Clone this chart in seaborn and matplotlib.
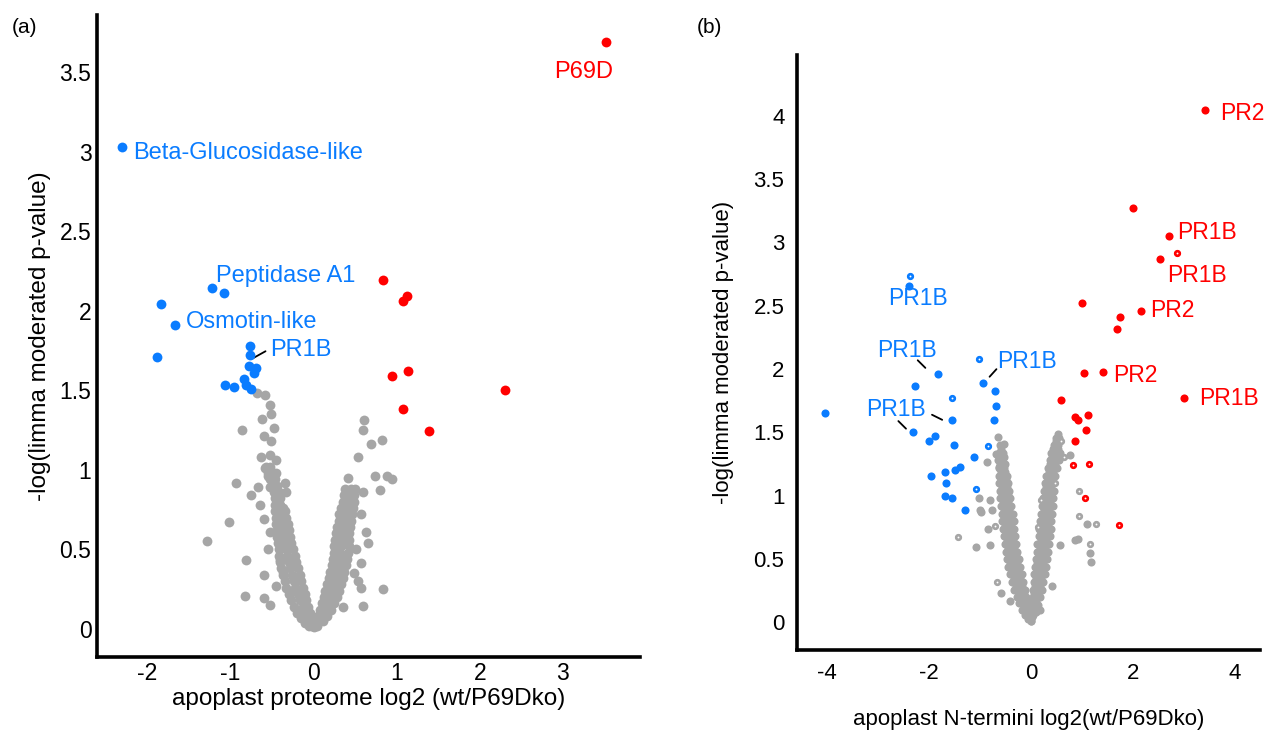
import matplotlib
matplotlib.use("Agg")
import matplotlib.pyplot as plt
import seaborn as sns
import pandas as pd
from matplotlib.ticker import FuncFormatter

# ---------------- panel (a): apoplast proteome ----------------
a_red_x = [3.52, 0.83, 1.12, 1.07, 0.94, 1.14, 1.07, 1.39, 2.30]
a_red_y = [3.69, 2.19, 2.09, 2.06, 1.59, 1.62, 1.38, 1.245, 1.50]

a_blue_x = [-2.31, -1.23, -1.08, -1.84, -1.67, -1.89, -0.77, -0.77, -0.78, -0.69,
            -0.72, -0.84, -0.81, -0.75, -1.07, -0.96]
a_blue_y = [3.03, 2.14, 2.11, 2.04, 1.91, 1.71, 1.78, 1.72, 1.65, 1.64,
            1.61, 1.57, 1.53, 1.51, 1.53, 1.52]

# gray (not significant) proteins
a_gray = [
    (-0.68, 1.48), (-0.59, 1.47), (-0.53, 1.41), (-0.51, 1.35), (-0.62, 1.32), (-0.86, 1.25),
    (-0.48, 1.26), (-0.60, 1.21), (-0.51, 1.18), (-0.64, 1.08), (-0.53, 1.09), (-0.45, 1.06),
    (-0.59, 1.01), (-0.55, 0.96), (-0.45, 0.98), (-0.93, 0.92), (-0.67, 0.89), (-0.53, 0.89),
    (-0.35, 0.92), (-0.33, 0.86), (-0.76, 0.84), (-0.65, 0.78), (-0.45, 0.82), (-0.37, 0.76),
    (-1.02, 0.67), (-0.60, 0.69), (-0.41, 0.73), (-1.29, 0.55), (-0.53, 0.61), (-0.33, 0.67),
    (-0.55, 0.50), (-0.81, 0.43), (-0.41, 0.43), (-0.60, 0.34), (-0.37, 0.36), (-0.83, 0.21),
    (-0.60, 0.195), (-0.53, 0.15), (-0.45, 0.27),
    (0.61, 1.31), (0.60, 1.25), (0.82, 1.19), (0.69, 1.16), (0.53, 1.08), (0.41, 0.95),
    (0.74, 0.96), (0.88, 0.96), (0.94, 0.94), (0.80, 0.87), (0.59, 0.86), (0.39, 0.84),
    (0.57, 0.72), (0.63, 0.61), (0.65, 0.54), (0.51, 0.50), (0.57, 0.415), (0.49, 0.35),
    (0.53, 0.30), (0.57, 0.26), (0.84, 0.25), (0.60, 0.145), (0.35, 0.14),
    # left arm of the V
    (-0.58, 1.02), (-0.52, 1.02), (-0.55, 0.98), (-0.49, 0.98), (-0.52, 0.94), (-0.46, 0.94),
    (-0.50, 0.90), (-0.44, 0.90), (-0.48, 0.86), (-0.42, 0.86), (-0.47, 0.82), (-0.41, 0.82),
    (-0.46, 0.78), (-0.40, 0.78), (-0.46, 0.74), (-0.39, 0.74), (-0.34, 0.74),
    (-0.45, 0.70), (-0.38, 0.70), (-0.33, 0.70), (-0.45, 0.66), (-0.38, 0.66), (-0.31, 0.66),
    (-0.44, 0.62), (-0.37, 0.62), (-0.30, 0.62), (-0.44, 0.58), (-0.36, 0.58), (-0.28, 0.58),
    (-0.43, 0.54), (-0.35, 0.54), (-0.27, 0.54), (-0.42, 0.50), (-0.33, 0.50), (-0.25, 0.50),
    (-0.42, 0.46), (-0.32, 0.46), (-0.23, 0.46), (-0.41, 0.42), (-0.30, 0.42), (-0.21, 0.42),
    (-0.39, 0.38), (-0.28, 0.38), (-0.19, 0.38), (-0.37, 0.34), (-0.26, 0.34), (-0.17, 0.34),
    (-0.35, 0.30), (-0.24, 0.30), (-0.15, 0.30), (-0.33, 0.26), (-0.22, 0.26), (-0.13, 0.26),
    (-0.30, 0.22), (-0.19, 0.22), (-0.11, 0.22), (-0.27, 0.18), (-0.16, 0.18), (-0.09, 0.18),
    (-0.24, 0.14), (-0.13, 0.14), (-0.07, 0.14), (-0.20, 0.10), (-0.10, 0.10), (-0.05, 0.10),
    (-0.15, 0.07), (-0.07, 0.07), (-0.03, 0.07), (-0.10, 0.04), (-0.04, 0.04),
    (-0.06, 0.02), (-0.02, 0.02), (0.0, 0.01),
    # right arm of the V
    (0.38, 0.88), (0.45, 0.88), (0.50, 0.88), (0.36, 0.84), (0.43, 0.84), (0.49, 0.84),
    (0.35, 0.80), (0.42, 0.80), (0.48, 0.80), (0.33, 0.76), (0.40, 0.76), (0.47, 0.76),
    (0.31, 0.72), (0.38, 0.72), (0.46, 0.72), (0.30, 0.68), (0.37, 0.68), (0.45, 0.68),
    (0.28, 0.64), (0.36, 0.64), (0.44, 0.64), (0.27, 0.60), (0.35, 0.60), (0.43, 0.60),
    (0.26, 0.56), (0.34, 0.56), (0.43, 0.56), (0.25, 0.52), (0.33, 0.52), (0.42, 0.52),
    (0.24, 0.48), (0.32, 0.48), (0.41, 0.48), (0.23, 0.44), (0.31, 0.44), (0.40, 0.44),
    (0.22, 0.40), (0.30, 0.40), (0.39, 0.40), (0.20, 0.36), (0.28, 0.36), (0.37, 0.36),
    (0.18, 0.32), (0.26, 0.32), (0.35, 0.32), (0.16, 0.28), (0.24, 0.28), (0.33, 0.28),
    (0.14, 0.24), (0.22, 0.24), (0.31, 0.24), (0.12, 0.20), (0.19, 0.20), (0.28, 0.20),
    (0.10, 0.16), (0.17, 0.16), (0.25, 0.16), (0.08, 0.12), (0.14, 0.12), (0.21, 0.12),
    (0.05, 0.08), (0.10, 0.08), (0.16, 0.08), (0.03, 0.05), (0.07, 0.05), (0.11, 0.05),
    (0.01, 0.02), (0.04, 0.02),
]

# ---------------- panel (b): apoplast N-termini ----------------
b_red_x = [3.41, 2.01, 2.71, 2.54, 1.00, 2.17, 1.75, 1.69, 1.04, 1.41, 3.01, 0.59,
           0.87, 0.93, 1.12, 1.08, 0.87]
b_red_y = [4.05, 3.27, 3.05, 2.87, 2.52, 2.46, 2.41, 2.32, 1.97, 1.98, 1.77, 1.76,
           1.62, 1.60, 1.64, 1.52, 1.43]
b_red_open_x = [2.86, 0.83, 1.14, 1.07, 1.73]
b_red_open_y = [2.92, 1.24, 1.25, 0.98, 0.77]

b_blue_x = [-4.04, -2.40, -2.32, -2.28, -1.82, -1.54, -1.99, -1.89, -1.51, -1.12, -1.95,
            -1.68, -1.48, -1.40, -1.66, -1.68, -1.54, -1.29, -0.94, -0.71, -0.69, -0.73]
b_blue_y = [1.655, 2.66, 1.50, 1.87, 1.96, 1.60, 1.43, 1.47, 1.40, 1.31, 1.16,
            1.19, 1.20, 1.23, 1.10, 1.00, 0.98, 0.885, 1.89, 1.83, 1.71, 1.60]
b_blue_open_x = [-2.38, -1.54, -1.02, -0.84, -1.08]
b_blue_open_y = [2.735, 1.77, 2.08, 1.39, 1.05]

b_gray_open = [(-0.71, 0.76), (-1.43, 0.675), (-0.66, 0.32), (0.60, 1.43), (0.66, 1.31),
               (0.95, 1.04), (0.95, 0.84), (1.27, 0.78), (1.16, 0.62), (0.47, 1.10),
               (0.20, 0.97), (0.14, 0.75)]
b_gray = [
    (-0.64, 1.465), (-0.53, 1.41), (-0.69, 1.33), (-0.87, 1.27), (-0.63, 1.23), (-0.58, 1.15),
    (-1.02, 0.98), (-0.81, 0.965), (-0.97, 0.87), (-0.77, 0.885), (-0.84, 0.74), (-1.08, 0.595),
    (-0.81, 0.61), (-0.58, 0.23), (-0.41, 0.17), (-1.00, 0.885),
    (0.53, 1.49), (0.43, 1.37), (0.77, 1.32), (0.44, 1.28), (1.10, 0.78), (0.87, 0.65),
    (0.93, 0.66), (1.16, 0.55), (1.18, 0.48), (0.57, 0.61), (0.41, 0.29), (0.18, 0.095),
    # left arm of the V
    (-0.60, 1.40), (-0.62, 1.34), (-0.55, 1.34), (-0.64, 1.28), (-0.56, 1.28),
    (-0.62, 1.22), (-0.52, 1.22), (-0.63, 1.16), (-0.55, 1.16), (-0.47, 1.16),
    (-0.62, 1.10), (-0.53, 1.10), (-0.44, 1.10), (-0.61, 1.04), (-0.52, 1.04), (-0.42, 1.04),
    (-0.60, 0.98), (-0.50, 0.98), (-0.40, 0.98), (-0.58, 0.92), (-0.48, 0.92), (-0.38, 0.92),
    (-0.57, 0.86), (-0.47, 0.86), (-0.36, 0.86), (-0.56, 0.80), (-0.45, 0.80), (-0.34, 0.80),
    (-0.55, 0.74), (-0.44, 0.74), (-0.33, 0.74), (-0.53, 0.68), (-0.42, 0.68), (-0.31, 0.68),
    (-0.51, 0.62), (-0.40, 0.62), (-0.29, 0.62), (-0.49, 0.56), (-0.38, 0.56), (-0.27, 0.56),
    (-0.47, 0.50), (-0.36, 0.50), (-0.24, 0.50), (-0.44, 0.44), (-0.33, 0.44), (-0.21, 0.44),
    (-0.41, 0.38), (-0.30, 0.38), (-0.18, 0.38), (-0.37, 0.32), (-0.26, 0.32), (-0.15, 0.32),
    (-0.33, 0.26), (-0.22, 0.26), (-0.12, 0.26), (-0.28, 0.20), (-0.18, 0.20), (-0.09, 0.20),
    (-0.23, 0.15), (-0.14, 0.15), (-0.06, 0.15), (-0.17, 0.10), (-0.10, 0.10), (-0.04, 0.10),
    (-0.11, 0.06), (-0.05, 0.06), (-0.06, 0.03), (-0.02, 0.03), (0.0, 0.01),
    (-0.58, 1.37), (-0.60, 1.31), (-0.52, 1.31), (-0.60, 1.25), (-0.50, 1.25),
    (-0.58, 1.19), (-0.50, 1.19), (-0.58, 1.13), (-0.49, 1.13), (-0.57, 1.07), (-0.47, 1.07),
    (-0.55, 1.01), (-0.45, 1.01), (-0.54, 0.95), (-0.44, 0.95), (-0.52, 0.89), (-0.42, 0.89),
    (-0.51, 0.83), (-0.40, 0.83), (-0.50, 0.77), (-0.39, 0.77), (-0.48, 0.71), (-0.37, 0.71),
    (-0.46, 0.65), (-0.35, 0.65), (-0.44, 0.59), (-0.33, 0.59), (-0.42, 0.53), (-0.30, 0.53),
    (-0.40, 0.47), (-0.28, 0.47), (-0.37, 0.41), (-0.25, 0.41), (-0.33, 0.35), (-0.22, 0.35),
    (-0.29, 0.29), (-0.18, 0.29), (-0.24, 0.23), (-0.14, 0.23), (-0.19, 0.17), (-0.10, 0.17),
    (-0.13, 0.12), (-0.07, 0.12), (-0.08, 0.08), (-0.03, 0.08),
    # right arm of the V
    (0.50, 1.46), (0.56, 1.46), (0.46, 1.40), (0.54, 1.40), (0.40, 1.34), (0.50, 1.34),
    (0.58, 1.34), (0.37, 1.28), (0.46, 1.28), (0.55, 1.28), (0.33, 1.22), (0.42, 1.22),
    (0.51, 1.22), (0.30, 1.16), (0.39, 1.16), (0.48, 1.16), (0.28, 1.10), (0.37, 1.10),
    (0.26, 1.04), (0.35, 1.04), (0.45, 1.04), (0.24, 0.98), (0.33, 0.98),
    (0.44, 0.98), (0.22, 0.92), (0.31, 0.92), (0.43, 0.92), (0.20, 0.86), (0.30, 0.86),
    (0.42, 0.86), (0.18, 0.80), (0.28, 0.80), (0.40, 0.80), (0.16, 0.74), (0.26, 0.74),
    (0.39, 0.74), (0.15, 0.68), (0.25, 0.68), (0.38, 0.68), (0.13, 0.62), (0.23, 0.62),
    (0.36, 0.62), (0.12, 0.56), (0.22, 0.56), (0.34, 0.56), (0.10, 0.50), (0.20, 0.50),
    (0.32, 0.50), (0.09, 0.44), (0.18, 0.44), (0.29, 0.44), (0.07, 0.38), (0.16, 0.38),
    (0.27, 0.38), (0.06, 0.32), (0.14, 0.32), (0.24, 0.32), (0.05, 0.26), (0.12, 0.26),
    (0.21, 0.26), (0.04, 0.20), (0.10, 0.20), (0.18, 0.20), (0.03, 0.14), (0.08, 0.14),
    (0.14, 0.14), (0.02, 0.08), (0.05, 0.08), (0.10, 0.08), (0.01, 0.04), (0.03, 0.04),
    (0.005, 0.01),
    (0.50, 1.43), (0.45, 1.37), (0.54, 1.37), (0.41, 1.31), (0.52, 1.31), (0.37, 1.25),
    (0.47, 1.25), (0.35, 1.19), (0.44, 1.19), (0.33, 1.13), (0.42, 1.13), (0.30, 1.07),
    (0.40, 1.07), (0.29, 1.01), (0.39, 1.01), (0.27, 0.95), (0.37, 0.95), (0.25, 0.89),
    (0.36, 0.89), (0.23, 0.83), (0.34, 0.83), (0.21, 0.77), (0.33, 0.77), (0.20, 0.71),
    (0.31, 0.71), (0.19, 0.65), (0.30, 0.65), (0.17, 0.59), (0.28, 0.59), (0.15, 0.53),
    (0.26, 0.53), (0.13, 0.47), (0.24, 0.47), (0.12, 0.41), (0.22, 0.41), (0.10, 0.35),
    (0.20, 0.35), (0.09, 0.29), (0.17, 0.29), (0.07, 0.23), (0.14, 0.23), (0.05, 0.17),
    (0.11, 0.17), (0.04, 0.11), (0.08, 0.11), (0.02, 0.06), (0.05, 0.06),
]

GRAY = "#a6a6a6"
BLUE = "#0a7cff"
RED = "#ff0000"


def make_df(gray, gray_open, blue_x, blue_y, blue_ox, blue_oy, red_x, red_y, red_ox, red_oy):
    rows = []
    rows += [(x, y, "gray", False) for x, y in gray]
    rows += [(x, y, "gray", True) for x, y in gray_open]
    rows += [(x, y, "blue", False) for x, y in zip(blue_x, blue_y)]
    rows += [(x, y, "blue", True) for x, y in zip(blue_ox, blue_oy)]
    rows += [(x, y, "red", False) for x, y in zip(red_x, red_y)]
    rows += [(x, y, "red", True) for x, y in zip(red_ox, red_oy)]
    return pd.DataFrame(rows, columns=["log2FC", "nlogp", "grupo", "abierto"])


def volcano(ax, df, s_fill, s_ring, ring_lw):
    cols = {"gray": GRAY, "blue": BLUE, "red": RED}
    for g in ["gray", "blue", "red"]:
        sub = df[(df.grupo == g) & (~df.abierto)]
        if len(sub):
            sns.scatterplot(data=sub, x="log2FC", y="nlogp", color=cols[g], s=s_fill,
                            linewidth=0, ax=ax, legend=False, zorder=3)
        sub = df[(df.grupo == g) & (df.abierto)]
        if len(sub):
            sns.scatterplot(data=sub, x="log2FC", y="nlogp", color="white", edgecolor=cols[g],
                            s=s_ring, linewidth=ring_lw, ax=ax, legend=False, zorder=3)
    for side in ["top", "right"]:
        ax.spines[side].set_visible(False)
    for side in ["left", "bottom"]:
        ax.spines[side].set_linewidth(2.6)
        ax.spines[side].set_color("black")
    ax.tick_params(direction="out", length=5, width=2, color="black", labelcolor="black", pad=2)
    fmt = FuncFormatter(lambda v, p: "%g" % v)
    ax.xaxis.set_major_formatter(fmt)
    ax.yaxis.set_major_formatter(fmt)


sns.set_style("white")
plt.rcParams["font.family"] = ["Liberation Sans", "DejaVu Sans"]
plt.rcParams["axes.unicode_minus"] = False
plt.rcParams["text.color"] = "black"
plt.rcParams["axes.labelcolor"] = "black"

fig = plt.figure(figsize=(12.66, 7.34), dpi=100)

# panel (a)
ax1 = fig.add_axes([0.0766, 0.105, 0.4289, 0.875])
df_a = make_df(a_gray, [], a_blue_x, a_blue_y, [], [], a_red_x, a_red_y, [], [])
volcano(ax1, df_a, 50, 10, 1.8)
ax1.set_xlim(-2.61, 3.93)
ax1.set_ylim(-0.176, 3.86)
ax1.set_xticks([-2, -1, 0, 1, 2, 3])
ax1.set_yticks([0, 0.5, 1, 1.5, 2, 2.5, 3, 3.5])
ax1.tick_params(labelsize=16.5, length=3, pad=1)
ax1.set_xlabel("apoplast proteome log2 (wt/P69Dko)", fontsize=17.5, labelpad=2)
ax1.set_ylabel("-log(limma moderated p-value)", fontsize=17.5, labelpad=6)

ax1.text(3.25, 3.50, "P69D", color=RED, fontsize=17, ha="center", va="center")
ax1.text(-2.17, 2.99, "Beta-Glucosidase-like", color=BLUE, fontsize=17, va="center")
ax1.text(-1.18, 2.22, "Peptidase A1", color=BLUE, fontsize=17, va="center")
ax1.text(-1.54, 1.93, "Osmotin-like", color=BLUE, fontsize=17, va="center")
ax1.text(-0.53, 1.755, "PR1B", color=BLUE, fontsize=17, va="center")
ax1.plot([-0.735, -0.58], [1.70, 1.745], color="black", lw=1.3)

# panel (b)
ax2 = fig.add_axes([0.6295, 0.114, 0.3655, 0.811])
df_b = make_df(b_gray, b_gray_open, b_blue_x, b_blue_y, b_blue_open_x, b_blue_open_y,
               b_red_x, b_red_y, b_red_open_x, b_red_open_y)
volcano(ax2, df_b, 34, 11, 1.9)
ax2.set_xlim(-4.59, 4.49)
ax2.set_ylim(-0.22, 4.48)
ax2.set_xticks([-4, -2, 0, 2, 4])
ax2.set_yticks([0, 0.5, 1, 1.5, 2, 2.5, 3, 3.5, 4])
ax2.tick_params(labelsize=16, pad=4)
ax2.set_xlabel("apoplast N-termini log2(wt/P69Dko)", fontsize=16, labelpad=18)
ax2.set_ylabel("-log(limma moderated p-value)", fontsize=16, labelpad=14)

for tx, ty, lab in [(3.72, 4.02, "PR2"), (2.87, 3.08, "PR1B"), (2.68, 2.74, "PR1B"),
                    (2.34, 2.46, "PR2"), (1.61, 1.95, "PR2"), (3.31, 1.77, "PR1B")]:
    ax2.text(tx, ty, lab, color=RED, fontsize=16.5, va="center")
for tx, ty, lab in [(-2.80, 2.56, "PR1B"), (-3.01, 2.15, "PR1B"), (-3.23, 1.68, "PR1B"),
                    (-0.67, 2.06, "PR1B")]:
    ax2.text(tx, ty, lab, color=BLUE, fontsize=16.5, va="center")
for (x0, x1), (y0, y1) in [((-2.22, -2.07), (2.07, 2.01)), ((-2.60, -2.45), (1.59, 1.53)),
                           ((-1.94, -1.74), (1.64, 1.60)), ((-0.81, -0.675), (1.94, 2.00))]:
    ax2.plot([x0, x1], [y0, y1], color="black", lw=1.3)

fig.text(0.0095, 0.963, "(a)", fontsize=15, va="center")
fig.text(0.5505, 0.963, "(b)", fontsize=15, va="center")

fig.savefig("out.png", dpi=100)
